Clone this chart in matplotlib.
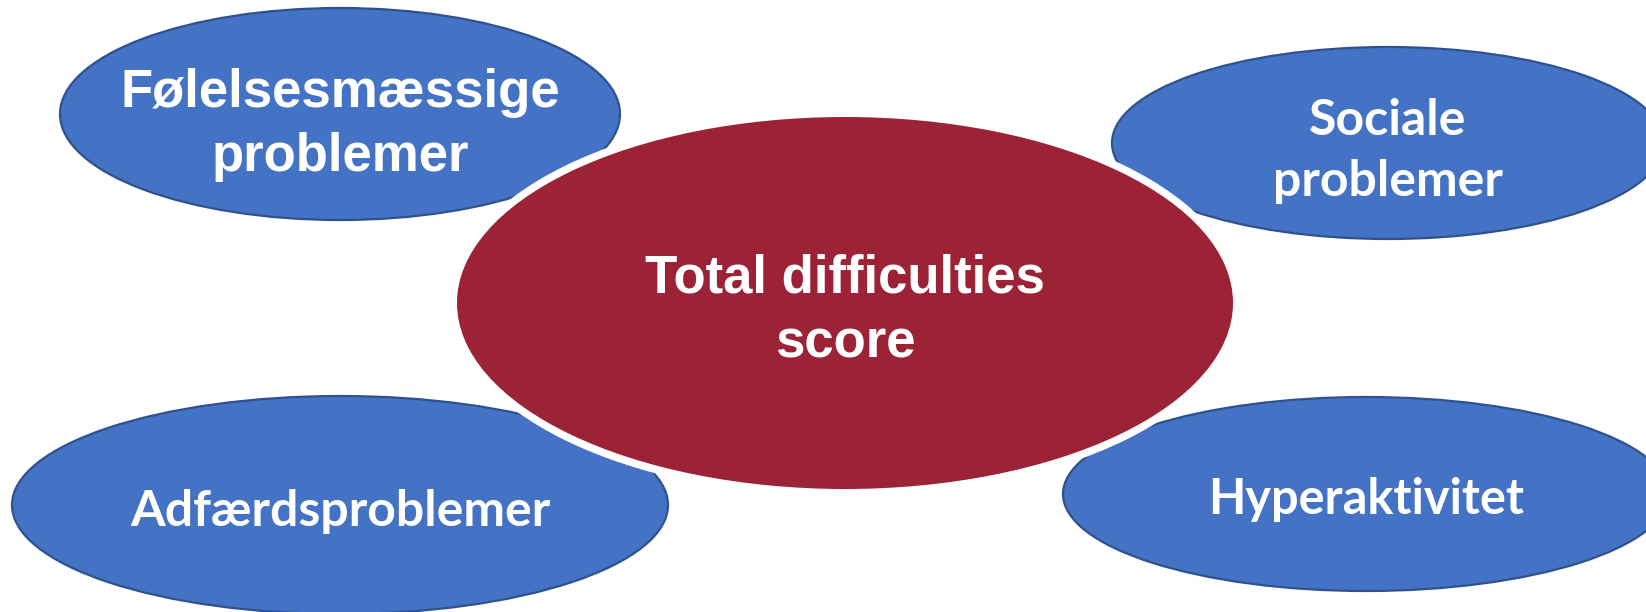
import matplotlib
matplotlib.use("Agg")
import matplotlib.pyplot as plt
from matplotlib.patches import Ellipse

# ---- data (labels of the diagram) ----
center_label = "Total difficulties\nscore"
outer_labels = ["Følelsesmæssige\nproblemer", "Sociale\nproblemer",
                "Adfærdsproblemer", "Hyperaktivitet"]

W, H = 1646, 612
fig = plt.figure(figsize=(W / 100, H / 100), dpi=100)
ax = fig.add_axes([0, 0, 1, 1])
ax.set_xlim(0, W)
ax.set_ylim(H, 0)
ax.axis("off")

blue = "#4472C4"
blue_edge = "#2F528F"
red = "#9C2236"

# outer ellipses: (cx, cy, width, height)
outer_geom = [(340, 114, 560, 212),
              (1388, 143, 552, 192),
              (340, 505, 656, 218),
              (1366, 494, 606, 194)]
for (cx, cy, w, h) in outer_geom:
    ax.add_patch(Ellipse((cx, cy), w, h, facecolor=blue, edgecolor=blue_edge,
                         linewidth=1.6, zorder=1))

# white halo + central ellipse
ccx, ccy, cw, ch = 845, 303, 776, 372
ax.add_patch(Ellipse((ccx, ccy), cw + 16, ch + 16, facecolor="white",
                     edgecolor="none", zorder=2))
ax.add_patch(Ellipse((ccx, ccy), cw, ch, facecolor=red, edgecolor="none", zorder=3))

arial = ["Liberation Sans", "DejaVu Sans"]
calib = ["Lato", "DejaVu Sans"]

ax.text(ccx, 311, center_label, ha="center", va="center", color="white",
        fontsize=38, fontweight="bold", family=arial, linespacing=1.36, zorder=4)

text_pos = [(340, 125), (1388, 151), (340, 512), (1366, 500)]
fams = [arial, calib, calib, calib]
sizes = [38, 36, 36, 35]
spacing = [1.36, 1.45, 1.0, 1.0]
for (x, y), lab, fam, fs, ls in zip(text_pos, outer_labels, fams, sizes, spacing):
    ax.text(x, y, lab, ha="center", va="center", color="white", fontsize=fs,
            fontweight="bold", family=fam, linespacing=ls, zorder=4)

fig.savefig("out.png", dpi=100)
